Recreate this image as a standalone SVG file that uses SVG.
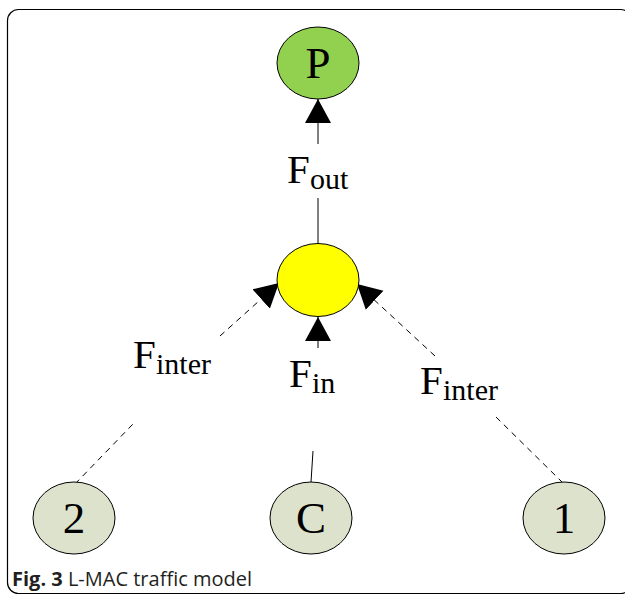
<svg xmlns="http://www.w3.org/2000/svg" width="625" height="599" viewBox="0 0 625 599">
<style>
.node{stroke:#000;stroke-width:1}
.ln{stroke:#000;stroke-width:1;fill:none}
.dash{stroke-dasharray:6,5}
.cap{font-family:"Open Sans","Noto Sans",sans-serif;font-size:20px;fill:#231f20}
</style>
<defs>
<marker id="ah" markerUnits="userSpaceOnUse" markerWidth="26" markerHeight="28" refX="24" refY="13" orient="auto" viewBox="0 0 26 26">
<path d="M0,0 L24,13 L0,26 z" fill="#000"/>
</marker>
</defs>
<rect x="7.5" y="9.5" width="624" height="584" rx="11" fill="#fff" stroke="#000" stroke-width="1.2"/>
<g id="connectors">
<line class="ln" x1="318" y1="144" x2="318" y2="99" marker-end="url(#ah)"/>
<line class="ln" x1="318" y1="198" x2="318" y2="244"/>
<line class="ln" x1="318" y1="348" x2="318" y2="317" marker-end="url(#ah)"/>
<line class="ln" x1="313" y1="451" x2="311" y2="482"/>
<line class="ln dash" x1="75" y1="484" x2="133" y2="424"/>
<line class="ln dash" x1="220" y1="336" x2="279" y2="283" marker-end="url(#ah)"/>
<line class="ln dash" x1="563" y1="483" x2="495" y2="416"/>
<line class="ln dash" x1="435" y1="356" x2="357" y2="284" marker-end="url(#ah)"/>
<g font-family="Liberation Serif, Times New Roman, serif" fill="#000">
<text font-size="41" x="287" y="183">F</text><text font-size="30" x="310" y="189">out</text>
<text font-size="41" x="289" y="387">F</text><text font-size="30" x="312" y="393">in</text>
<text font-size="41" x="133" y="368">F</text><text font-size="30" x="156" y="374">inter</text>
<text font-size="41" x="420" y="394">F</text><text font-size="30" x="443" y="400">inter</text>
</g>
</g>
<g font-family="Liberation Serif, Times New Roman, serif" font-size="45" fill="#000" text-anchor="middle">
<g id="P">
<ellipse class="node" cx="318" cy="63" rx="41" ry="36" fill="#92d050"/>
<text x="318" y="78">P</text>
</g>
<g id="hub">
<ellipse class="node" cx="318" cy="280" rx="41" ry="36.5" fill="#ffff00"/>
</g>
<g id="n2">
<ellipse class="node" cx="74" cy="518" rx="41" ry="36" fill="#dde2cc"/>
<text x="74" y="533">2</text>
</g>
<g id="nC">
<ellipse class="node" cx="311" cy="518" rx="41" ry="36" fill="#dde2cc"/>
<text x="311" y="533">C</text>
</g>
<g id="n1">
<ellipse class="node" cx="564" cy="518" rx="41" ry="36" fill="#dde2cc"/>
<text x="564" y="533">1</text>
</g>
</g>
<text class="cap" x="12" y="586"><tspan font-weight="bold">Fig. 3</tspan> L-MAC traffic model</text>
</svg>
